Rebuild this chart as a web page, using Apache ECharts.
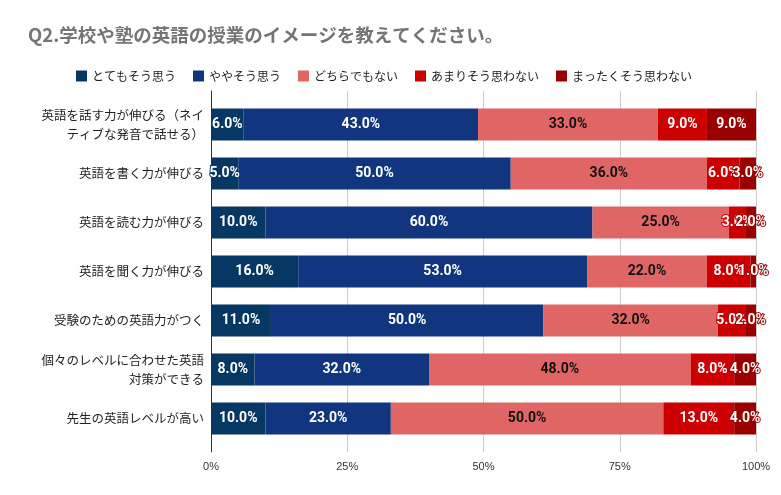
<!DOCTYPE html>
<html><head><meta charset="utf-8">
<script src="https://cdn.jsdelivr.net/npm/echarts@6/dist/echarts.min.js"></script>
<style>html,body{margin:0;padding:0;background:#fff}#c{width:781px;height:495px}</style>
</head><body><div id="c"></div>
<script>
const categories = ['英語を話す力が伸びる（ネイ\nティブな発音で話せる）','英語を書く力が伸びる','英語を読む力が伸びる','英語を聞く力が伸びる','受験のための英語力がつく','個々のレベルに合わせた英語\n対策ができる','先生の英語レベルが高い'];
const seriesNames = ['とてもそう思う','ややそう思う','どちらでもない','あまりそう思わない','まったくそう思わない'];
const s1 = [6,5,10,16,11,8,10];
const s2 = [43,50,60,53,50,32,23];
const s3 = [33,36,25,22,32,48,50];
const s4 = [9,6,3,8,5,8,13];
const s5 = [9,3,2,1,2,4,4];
const xTicks = [0,25,50,75,100];
const colors = ['#073763','#11367f','#e06666','#cc0000','#990000'];
const labelColors = ['#fff','#fff','#111','#fff','#fff'];
const allData = [s1,s2,s3,s4,s5];
const FONT = "Roboto, 'Noto Sans CJK JP', sans-serif";
const chart = echarts.init(document.getElementById('c'));
chart.setOption({
  animation:false,
  color: colors,
  title:{text:'Q2.学校や塾の英語の授業のイメージを教えてください。',left:23,top:21,
    textStyle:{fontSize:18.5,fontWeight:'bold',color:'#757575',fontFamily:"'Noto Sans CJK JP', sans-serif"}},
  legend:{left:71,top:65,itemWidth:11,itemHeight:11,itemGap:17,icon:'rect',
    textStyle:{fontSize:12,color:'#222',fontFamily:"'Noto Sans CJK JP', sans-serif"},data:seriesNames},
  grid:[
    {left:211,right:25,top:100,bottom:52},
    {left:211,right:25,top:91,bottom:43}
  ],
  xAxis:[
    {gridIndex:0,type:'value',min:0,max:100,show:false},
    {gridIndex:1,type:'value',min:0,max:100,interval:25,
      axisLabel:{formatter:v=>v+'%',fontSize:11,color:'#333',margin:9,fontFamily:"'Liberation Sans', Arial, sans-serif"},
      splitLine:{lineStyle:{color:'#cccccc'}},axisLine:{show:false},axisTick:{show:false}}
  ],
  yAxis:[
    {gridIndex:0,type:'category',inverse:true,data:categories,
      axisLine:{show:false},axisTick:{show:false},
      axisLabel:{fontSize:12.5,color:'#222',margin:7,lineHeight:19,fontFamily:"'Noto Sans CJK JP', sans-serif"}},
    {gridIndex:1,type:'category',data:[''],axisLabel:{show:false},axisTick:{show:false},
      axisLine:{show:true,lineStyle:{color:'#333',width:1}}}
  ],
  series: allData.map((d,i)=>({
    name:seriesNames[i],type:'bar',stack:'t',xAxisIndex:0,yAxisIndex:0,
    data:d,barWidth:32,
    label:{show:true,position:'inside',formatter:p=>p.value.toFixed(1)+'%',
      fontSize:14,fontWeight:'bold',color:labelColors[i],fontFamily:FONT,
      textBorderColor: i===2?'transparent':colors[i],textBorderWidth: i===2?0:2}
  }))
});
</script></body></html>
